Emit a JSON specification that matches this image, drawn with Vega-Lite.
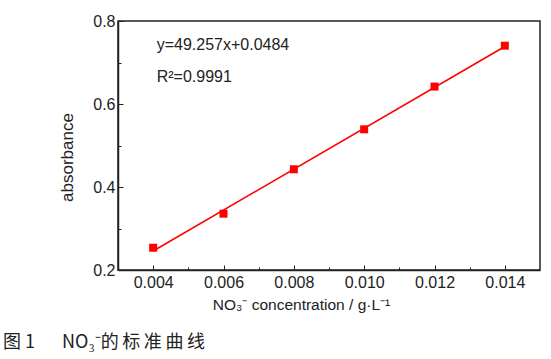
{
  "$schema": "https://vega.github.io/schema/vega-lite/v6.json",
  "autosize": "none",
  "width": 422,
  "height": 249,
  "padding": {"left": 118, "top": 21, "right": 11, "bottom": 89},
  "background": "white",
  "config": {
    "view": {"stroke": "#222", "strokeWidth": 1.5},
    "font": "Liberation Sans",
    "axis": {
      "domainColor": "#222",
      "domainWidth": 1.5,
      "tickColor": "#222",
      "grid": false,
      "labelFont": "Liberation Sans",
      "labelColor": "#222",
      "titleFont": "Liberation Sans",
      "titleFontWeight": "normal",
      "titleColor": "#222"
    }
  },
  "title": {
    "text": "图 1\u2003\u2002NO₃⁻的\u2009标\u2009准\u2009曲\u2009线",
    "orient": "bottom",
    "anchor": "start",
    "frame": "group",
    "font": "Noto Sans CJK SC",
    "fontSize": 18,
    "fontWeight": "normal",
    "color": "#222",
    "offset": 21,
    "dx": -115
  },
  "data": {
    "values": [
      {"conc": 0.004, "abs": 0.2537},
      {"conc": 0.006, "abs": 0.3357},
      {"conc": 0.008, "abs": 0.4427},
      {"conc": 0.010, "abs": 0.5390},
      {"conc": 0.012, "abs": 0.6420},
      {"conc": 0.014, "abs": 0.7405}
    ]
  },
  "layer": [
    {
      "transform": [{"regression": "abs", "on": "conc"}],
      "mark": {"type": "line", "color": "#ff0000", "strokeWidth": 1.6},
      "encoding": {
        "x": {
          "field": "conc", "type": "quantitative",
          "scale": {"domain": [0.003, 0.015], "nice": false, "zero": false},
          "axis": {
            "title": "NO₃⁻ concentration / g·L⁻¹",
            "titleFontSize": 15.5,
            "labelFontSize": 16,
            "values": [0.004, 0.005, 0.006, 0.007, 0.008, 0.009, 0.010, 0.011, 0.012, 0.013, 0.014],
            "labelOverlap": false,
            "labelFlush": false,
            "labelExpr": "round(datum.value*1000) % 2 == 0 ? format(datum.value, '.3f') : ''",
            "tickSize": {"condition": {"test": "round(datum.value*1000) % 2 == 0", "value": -5}, "value": -3},
            "labelPadding": 9,
            "titlePadding": 5,
            "titleX": 183
          }
        },
        "y": {
          "field": "abs", "type": "quantitative",
          "scale": {"domain": [0.2, 0.8], "nice": false, "zero": false},
          "axis": {
            "title": "absorbance",
            "titleFontSize": 17,
            "labelFontSize": 16,
            "values": [0.2, 0.3, 0.4, 0.5, 0.6, 0.7, 0.8],
            "labelOverlap": false,
            "labelExpr": "round(datum.value*10) % 2 == 0 ? format(datum.value, '.1f') : ''",
            "tickSize": {"condition": {"test": "round(datum.value*10) % 2 == 0", "value": -5}, "value": -3},
            "labelPadding": 8,
            "titlePadding": 16,
            "titleY": 136
          }
        }
      }
    },
    {
      "mark": {"type": "square", "color": "#ff0000", "size": 64, "opacity": 1, "filled": true},
      "encoding": {
        "x": {"field": "conc", "type": "quantitative"},
        "y": {"field": "abs", "type": "quantitative"}
      }
    },
    {
      "data": {"values": [
        {"conc": 0.0041, "abs": 0.742, "label": "y=49.257x+0.0484"},
        {"conc": 0.0041, "abs": 0.665, "label": "R²=0.9991"}
      ]},
      "mark": {"type": "text", "align": "left", "baseline": "middle", "font": "Liberation Sans", "fontSize": 16, "color": "#222"},
      "encoding": {
        "x": {"field": "conc", "type": "quantitative"},
        "y": {"field": "abs", "type": "quantitative"},
        "text": {"field": "label"}
      }
    }
  ]
}
